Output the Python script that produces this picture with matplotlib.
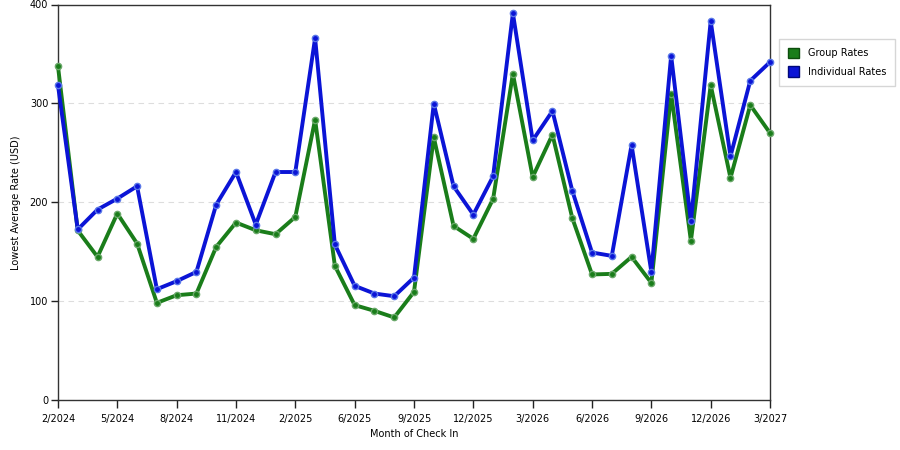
import matplotlib
matplotlib.use("Agg")
import matplotlib.pyplot as plt
from matplotlib.patches import Patch

# 37 monthly check-in points (one month skipped between 2/2025 and 6/2025)
months = ["2/2024", "3/2024", "4/2024", "5/2024", "6/2024", "7/2024", "8/2024",
          "9/2024", "10/2024", "11/2024", "12/2024", "1/2025", "2/2025", "3/2025",
          "5/2025", "6/2025", "7/2025", "8/2025", "9/2025", "10/2025", "11/2025",
          "12/2025", "1/2026", "2/2026", "3/2026", "4/2026", "5/2026", "6/2026",
          "7/2026", "8/2026", "9/2026", "10/2026", "11/2026", "12/2026", "1/2027",
          "2/2027", "3/2027"]

group_rates = [337.7, 171.5, 144.8, 188.6, 158.3, 98.3, 106.0, 107.7, 154.9,
               179.5, 171.7, 167.7, 185.2, 283.5, 135.7, 96.0, 90.2, 83.5,
               109.4, 265.7, 176.1, 163.0, 203.4, 330.0, 225.6, 268.4, 184.2,
               127.0, 127.6, 144.8, 118.5, 309.8, 160.9, 318.5, 224.6, 298.3,
               270.0]

individual_rates = [318.5, 172.5, 192.6, 203.7, 216.2, 112.1, 120.2, 129.6,
                    197.6, 230.6, 177.4, 230.6, 230.6, 366.0, 157.3, 115.5,
                    107.7, 105.0, 123.9, 299.7, 216.2, 187.5, 226.3, 391.2,
                    262.6, 292.3, 211.8, 149.2, 145.8, 257.9, 129.6, 348.2,
                    180.8, 383.2, 246.5, 322.9, 341.8]

GREEN = "#1a7d1a"
BLUE = "#0b14d6"
FS = 7

fig = plt.figure(figsize=(9, 4.5), dpi=100)
ax = fig.add_axes([0.0644, 0.111, 0.7912, 0.879])

x = list(range(len(months)))
ax.plot(x, group_rates, "-o", color=GREEN, linewidth=2.8, markersize=4.5,
        markerfacecolor=GREEN, markeredgecolor="#6aa86a", markeredgewidth=1,
        zorder=3, clip_on=False)
ax.plot(x, individual_rates, "-o", color=BLUE, linewidth=2.8, markersize=4.5,
        markerfacecolor=BLUE, markeredgecolor="#5a78e8", markeredgewidth=1,
        zorder=4, clip_on=False)

ax.set_xlim(0, len(months) - 1)
ax.set_ylim(0, 400)
ax.set_xticks(x[::3])
ax.set_xticklabels(months[::3], fontsize=FS)
ax.set_yticks([0, 100, 200, 300, 400])
ax.set_yticklabels(["0", "100", "200", "300", "400"], fontsize=FS)
ax.tick_params(axis="x", direction="out", length=6, width=1, color="#222222", pad=4)
ax.tick_params(axis="y", direction="out", length=5, width=1, color="#222222", pad=2)

for s in ax.spines.values():
    s.set_color("#333333")
    s.set_linewidth(1)

ax.grid(axis="y", linestyle=(0, (5, 4)), color="#dddddd", linewidth=0.8)
ax.set_axisbelow(True)

ax.set_xlabel("Month of Check In", fontsize=FS, labelpad=4)
ax.set_ylabel("Lowest Average Rate (USD)", fontsize=FS, labelpad=6)

handles = [Patch(facecolor=GREEN, edgecolor="#0d4d0d", label="Group Rates"),
           Patch(facecolor=BLUE, edgecolor="#00087a", label="Individual Rates")]
fig.legend(handles=handles, loc="upper left", bbox_to_anchor=(779 / 900, 1 - 39 / 450),
           fontsize=FS, frameon=True, fancybox=False, edgecolor="#cccccc",
           handlelength=1.2, handleheight=1.25, borderpad=0.9, labelspacing=0.85,
           handletextpad=0.9, borderaxespad=0)

fig.savefig("out.png", dpi=100)
